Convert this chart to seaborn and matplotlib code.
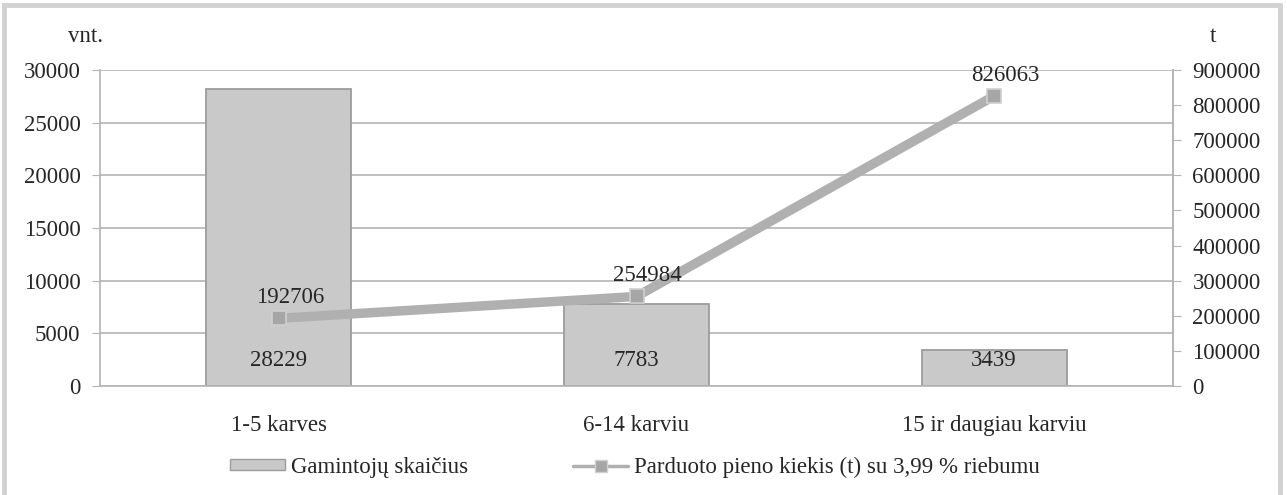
import numpy as np
import pandas as pd
import matplotlib
matplotlib.use("Agg")
import matplotlib.pyplot as plt
import seaborn as sns
from matplotlib.patches import Rectangle, Patch
from matplotlib.lines import Line2D

categories = ["1-5 karves", "6-14 karviu", "15 ir daugiau karviu"]
producers = [28229, 7783, 3439]
milk = [192706, 254984, 826063]
left_ticks = [0, 5000, 10000, 15000, 20000, 25000, 30000]
right_ticks = [0, 100000, 200000, 300000, 400000, 500000, 600000, 700000, 800000, 900000]
bar_label = "Gamintojų skaičius"
line_label = "Parduoto pieno kiekis (t) su 3,99 % riebumu"

sns.set_style("white")
plt.rcParams['font.family'] = ['Liberation Serif', 'DejaVu Serif']
FS = 16.5
TXT = "#262626"
GRID = "#b4b4b4"

fig = plt.figure(figsize=(12.87, 4.95), dpi=100)
ax = fig.add_axes([100/1287, 1 - 386/495, (1173-100)/1287, (386-70)/495])

df = pd.DataFrame({"cat": categories, "prod": producers})
sns.barplot(data=df, x="cat", y="prod", ax=ax, color="#c9c9c9", width=0.405,
            edgecolor="#9c9c9c", linewidth=1.3, saturation=1)
ax.set_ylim(0, 30000)
ax.set_xlim(-0.5, len(categories) - 0.5)
ax.set_yticks(left_ticks)
ax.set_yticklabels([str(v) for v in left_ticks], fontsize=FS, color=TXT)
ax.set_xticks(range(len(categories)))
ax.set_xticklabels(categories, fontsize=FS, color=TXT)
ax.tick_params(axis="x", length=0, pad=21)
ax.set_xticks(np.arange(-0.5, len(categories), 1.0), minor=True)
ax.tick_params(axis="x", which="minor", length=7, color=GRID, direction="out")
ax.tick_params(axis="y", length=6, color=GRID, direction="out", pad=8)
ax.set_xlabel("")
ax.set_ylabel("")
ax.grid(axis="y", color=GRID, linewidth=1.2)
ax.set_axisbelow(True)
ax.spines["top"].set_visible(False)
for s in ["left", "bottom", "right"]:
    ax.spines[s].set_color(GRID)
    ax.spines[s].set_linewidth(1.2)

for i, v in enumerate(producers):
    ax.text(i, 2400, str(v), ha="center", va="center", fontsize=FS, color=TXT, zorder=5)

ax2 = ax.twinx()
sns.lineplot(x=np.arange(len(categories)), y=milk, ax=ax2, color="#b0b0b0",
             linewidth=6.8, marker="s", markersize=10, markerfacecolor="#a6a6a6",
             markeredgecolor="#d0d0d0", markeredgewidth=1.2, zorder=4)
ax2.set_ylim(0, 900000)
ax2.set_yticks(right_ticks)
ax2.set_yticklabels([str(v) for v in right_ticks], fontsize=FS, color=TXT)
ax2.tick_params(axis="y", length=6, color=GRID, direction="out", pad=8)
ax2.set_xlim(-0.5, len(categories) - 0.5)
for s in ["top", "left", "bottom"]:
    ax2.spines[s].set_visible(False)
ax2.spines["right"].set_color(GRID)
ax2.spines["right"].set_linewidth(1.2)

for i, v in enumerate(milk):
    ax2.annotate(str(v), (i, v), xytext=(8, 15), textcoords="offset points",
                 ha="center", va="center", fontsize=FS, color=TXT, zorder=6)

fig.text(85/1287, 1 - 37/495, "vnt.", ha="center", va="center", fontsize=FS, color=TXT)
fig.text(1213/1287, 1 - 37/495, "t", ha="center", va="center", fontsize=FS, color=TXT)

handles = [Patch(facecolor="#c9c9c9", edgecolor="#9c9c9c", linewidth=1.0),
           Line2D([0], [0], color="#b0b0b0", linewidth=2.5, marker="s", markersize=8,
                  markerfacecolor="#a6a6a6", markeredgecolor="#d0d0d0")]
fig.legend(handles, [bar_label, line_label], loc="center", bbox_to_anchor=(635/1287, 1 - 467/495),
           ncol=2, frameon=False, fontsize=FS, handlelength=2.4, handleheight=0.35,
           columnspacing=4.6, handletextpad=0.25, labelcolor=TXT)

fig.patches.append(Rectangle((4/1287, -0.1), (1280-4)/1287, 1.1 - 5/495, transform=fig.transFigure,
                             fill=False, edgecolor="#d2d2d2", linewidth=3.5))

fig.savefig("out.png", dpi=100)
